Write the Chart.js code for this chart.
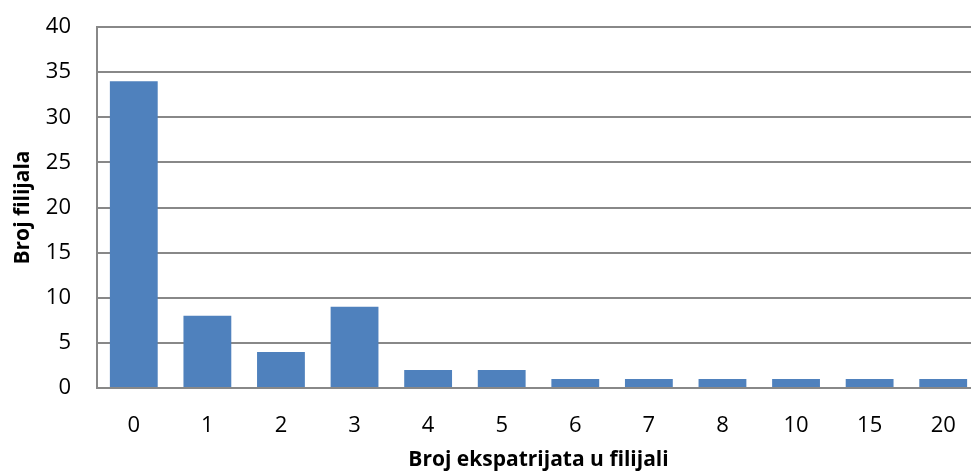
<!DOCTYPE html>
<html lang="hr">
<head>
    <meta charset="UTF-8">
    <title>Broj filijala</title>
    <style>
        body { margin: 0; overflow: hidden; background: #fff; }
        #chartBox { width: 990px; height: 473px; }
    </style>
    <script src="https://cdn.jsdelivr.net/npm/chart.js"></script>
</head>
<body>
    <div id="chartBox">
        <canvas id="branchChart" width="990" height="473"></canvas>
    </div>

    <script>
        // broj ekspatrijata po filijali (kategorije) i broj filijala
        const categories = ['0', '1', '2', '3', '4', '5', '6', '7', '8', '10', '15', '20'];
        const branchCounts = [34, 8, 4, 9, 2, 2, 1, 1, 1, 1, 1, 1];
        const yTicks = [0, 5, 10, 15, 20, 25, 30, 35, 40];

        const xTitle = 'Broj ekspatrijata u filijali';
        const yTitle = 'Broj filijala';

        const fontFamily = '"Open Sans", "Liberation Sans", sans-serif';
        const gridColor = '#888888';

        const ctx = document.getElementById('branchChart').getContext('2d');
        new Chart(ctx, {
            type: 'bar',
            data: {
                labels: categories,
                datasets: [{
                    label: yTitle,
                    data: branchCounts,
                    backgroundColor: '#4F81BD',
                    borderWidth: 0,
                    categoryPercentage: 1,
                    barPercentage: 0.65
                }]
            },
            options: {
                responsive: false,
                animation: false,
                layout: {
                    padding: { top: 27, right: 10, bottom: 0, left: 0 }
                },
                plugins: {
                    legend: { display: false },
                    tooltip: { enabled: false }
                },
                scales: {
                    x: {
                        grid: { display: false, drawTicks: false },
                        border: { display: true, color: gridColor, width: 2 },
                        ticks: {
                            color: '#000',
                            padding: 25,
                            font: { family: fontFamily, size: 22 }
                        },
                        title: {
                            display: true,
                            text: xTitle,
                            color: '#000',
                            padding: { top: 0, bottom: 0 },
                            font: { family: fontFamily, size: 21, weight: 'bold' }
                        },
                        afterFit: scale => { scale.height = 85; }
                    },
                    y: {
                        min: 0,
                        max: 40,
                        afterBuildTicks: scale => {
                            scale.ticks = yTicks.map(v => ({ value: v }));
                        },
                        grid: { color: gridColor, lineWidth: 2, drawTicks: false },
                        border: { display: true, color: gridColor, width: 2 },
                        ticks: {
                            color: '#000',
                            padding: 26,
                            font: { family: fontFamily, size: 22 }
                        },
                        title: {
                            display: true,
                            text: yTitle,
                            color: '#000',
                            padding: { top: 10, bottom: 0 },
                            font: { family: fontFamily, size: 21, weight: 'bold' }
                        },
                        afterFit: scale => {
                            scale.width = 97;
                            scale.paddingTop = 0;
                            scale.paddingBottom = 0;
                        }
                    }
                }
            }
        });
    </script>
</body>
</html>
